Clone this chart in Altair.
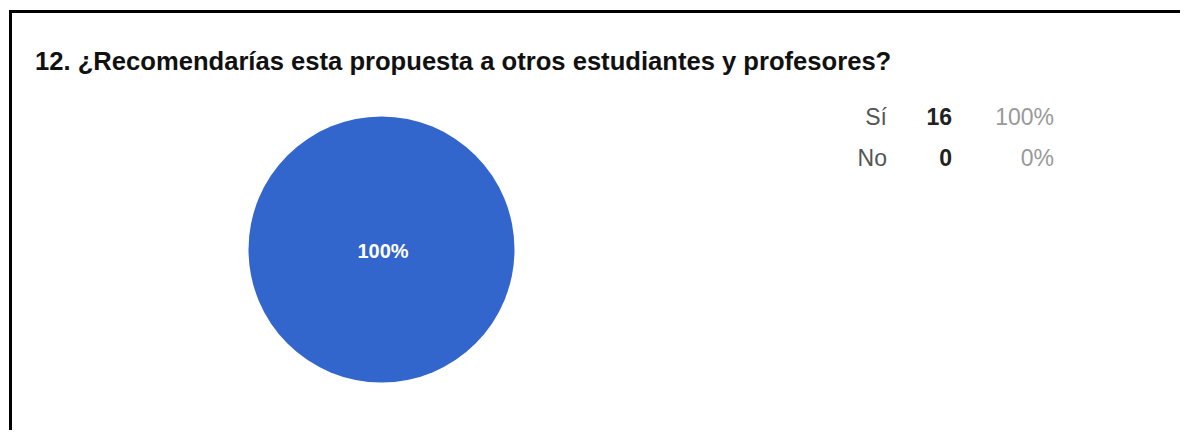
import altair as alt
import pandas as pd

# Data
categories = ["Sí", "No"]
counts = [16, 0]
percents = ["100%", "0%"]
title_text = "12. ¿Recomendarías esta propuesta a otros estudiantes y profesores?"
pie_label = "100%"
colors = ["#3366CC", "#DC3912"]

W, H = 1172, 422
FONT = "Liberation Sans"

df = pd.DataFrame({"cat": categories, "count": counts, "pct": percents})

pie = alt.Chart(df).mark_arc(outerRadius=133, strokeWidth=0).encode(
    theta=alt.Theta("count:Q", stack=True),
    color=alt.Color("cat:N", scale=alt.Scale(domain=categories, range=colors), legend=None),
    order=alt.Order("cat:N", sort="descending"),
    x=alt.value(371.5),
    y=alt.value(241.5),
)

pie_text = alt.Chart(pd.DataFrame({"t": [pie_label]})).mark_text(
    font=FONT, fontSize=20, fontWeight="bold", color="#ffffff", align="center", baseline="middle"
).encode(text="t:N", x=alt.value(373), y=alt.value(244))

yscale = alt.Scale(domain=categories, range=[117, 158], padding=0)

lab = alt.Chart(df).mark_text(
    font=FONT, fontSize=23, color="#555555", align="right", baseline="alphabetic"
).encode(text="cat:N", x=alt.value(877), y=alt.Y("cat:N", scale=yscale, axis=None))

cnt = alt.Chart(df).mark_text(
    font=FONT, fontSize=23, fontWeight="bold", color="#222222", align="right", baseline="alphabetic"
).encode(text="count:Q", x=alt.value(942), y=alt.Y("cat:N", scale=yscale, axis=None))

pct = alt.Chart(df).mark_text(
    font=FONT, fontSize=23, color="#999999", align="right", baseline="alphabetic"
).encode(text="pct:N", x=alt.value(1044), y=alt.Y("cat:N", scale=yscale, axis=None))

title = alt.Chart(pd.DataFrame({"t": [title_text]})).mark_text(
    font=FONT, fontSize=25.6, fontWeight="bold", color="#111111", align="left", baseline="alphabetic"
).encode(text="t:N", x=alt.value(25), y=alt.value(62))

frame_top = alt.Chart(pd.DataFrame({"a": [0]})).mark_rule(color="#000000", strokeWidth=3).encode(
    x=alt.value(0), x2=alt.value(W), y=alt.value(3.5)
)
frame_left = alt.Chart(pd.DataFrame({"a": [0]})).mark_rule(color="#000000", strokeWidth=3).encode(
    x=alt.value(0.5), y=alt.value(2), y2=alt.value(H)
)

chart = alt.layer(frame_top, frame_left, title, pie, pie_text, lab, cnt, pct).properties(
    width=W, height=H, autosize=alt.AutoSizeParams(type="fit", contains="padding"), padding=0
).configure_view(stroke=None).resolve_scale(color="independent")

chart.save("out.html", embed_options={"renderer": "svg", "actions": False})
